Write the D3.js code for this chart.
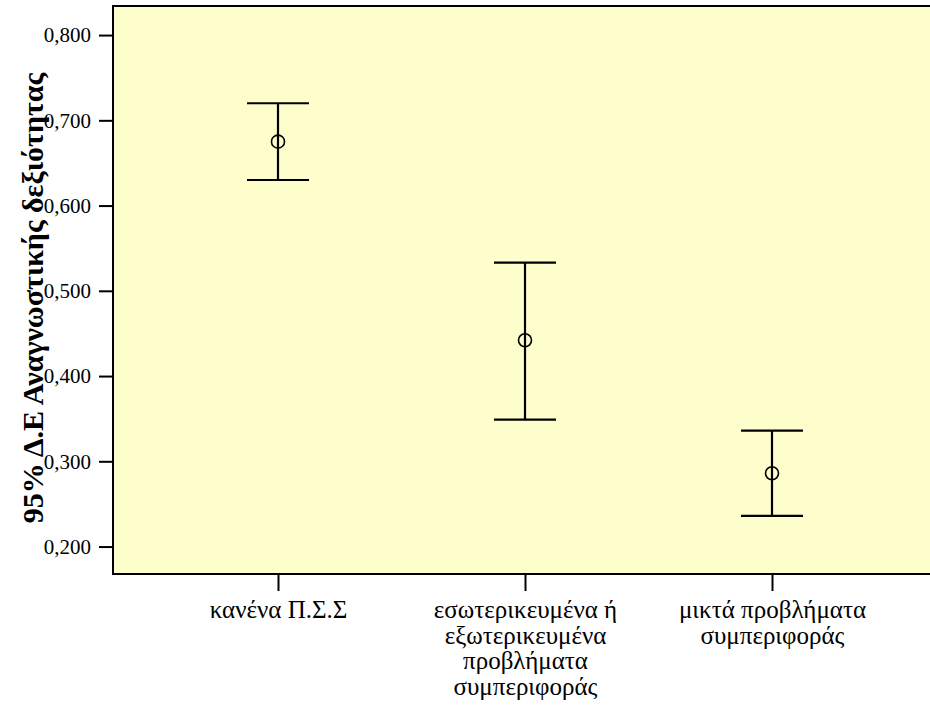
<!DOCTYPE html>
<html>
<head>
<meta charset="utf-8">
<script src="https://cdn.jsdelivr.net/npm/d3@7"></script>
<style>
  html, body { margin: 0; padding: 0; background: #ffffff; }
  svg { display: block; }
</style>
</head>
<body>
<svg id="chart" width="930" height="705"></svg>
<script>
// Groups and 95% confidence intervals of reading skill
const categories = [
  ["κανένα Π.Σ.Σ"],
  ["εσωτερικευμένα ή", "εξωτερικευμένα", "προβλήματα", "συμπεριφοράς"],
  ["μικτά προβλήματα", "συμπεριφοράς"]
];
const means = [0.675, 0.442, 0.286];
const lower = [0.630, 0.349, 0.236];
const upper = [0.720, 0.533, 0.336];
const yTicks = [0.2, 0.3, 0.4, 0.5, 0.6, 0.7, 0.8];
const yTitle = "95% Δ.Ε Αναγνωστικής δεξιότητας";

const svg = d3.select("#chart");
const plotLeft = 113, plotTop = 6, plotBottom = 574, plotRight = 937;
const font = "'Liberation Serif', 'Times New Roman', serif";

const x = d3.scalePoint()
  .domain(d3.range(categories.length))
  .range([plotLeft, plotRight])
  .padding(0.668);

const y = d3.scaleLinear()
  .domain([0.1678, 0.8341])
  .range([plotBottom, plotTop]);

// plot background
svg.append("rect")
  .attr("x", plotLeft).attr("y", plotTop)
  .attr("width", plotRight - plotLeft).attr("height", plotBottom - plotTop)
  .attr("fill", "#fefdcc")
  .attr("stroke", "#000").attr("stroke-width", 2);

// y axis
const yAxis = d3.axisLeft(y)
  .tickValues(yTicks)
  .tickSize(14)
  .tickPadding(8)
  .tickFormat(d => d3.format(".3f")(d).replace(".", ","));
const gy = svg.append("g").attr("transform", `translate(${plotLeft},0)`).call(yAxis);
gy.select(".domain").remove();
gy.selectAll(".tick line").attr("stroke", "#000").attr("stroke-width", 2);
gy.selectAll(".tick text")
  .attr("fill", "#000")
  .style("font-family", font)
  .style("font-size", "21px");

// x axis
const xAxis = d3.axisBottom(x).tickSize(17).tickFormat(() => "");
const gx = svg.append("g").attr("transform", `translate(0,${plotBottom})`).call(xAxis);
gx.select(".domain").remove();
gx.selectAll(".tick line").attr("stroke", "#000").attr("stroke-width", 2);

// multi-line category labels
gx.selectAll(".tick").each(function(d) {
  const t = d3.select(this).append("text")
    .attr("text-anchor", "middle")
    .attr("fill", "#000")
    .style("font-family", font)
    .style("font-size", "25px");
  categories[d].forEach((line, i) => {
    t.append("tspan").attr("x", 0).attr("y", 44 + i * 25.7).text(line);
  });
});

// error bars
const cap = 31;
const bars = svg.append("g");
means.forEach((m, i) => {
  const cx = x(i);
  bars.append("line")
    .attr("x1", cx).attr("x2", cx)
    .attr("y1", y(upper[i])).attr("y2", y(lower[i]))
    .attr("stroke", "#000").attr("stroke-width", 2.2);
  [upper[i], lower[i]].forEach(v => {
    bars.append("line")
      .attr("x1", cx - cap).attr("x2", cx + cap)
      .attr("y1", y(v)).attr("y2", y(v))
      .attr("stroke", "#000").attr("stroke-width", 2.2);
  });
  bars.append("circle")
    .attr("cx", cx).attr("cy", y(m)).attr("r", 6.5)
    .attr("fill", "none")
    .attr("stroke", "#000").attr("stroke-width", 1.6);
});

// y axis title
svg.append("text")
  .attr("transform", `translate(43,${298}) rotate(-90)`)
  .attr("text-anchor", "middle")
  .attr("fill", "#000")
  .style("font-family", font)
  .style("font-size", "30px")
  .style("font-weight", "bold")
  .text(yTitle);
</script>
</body>
</html>
